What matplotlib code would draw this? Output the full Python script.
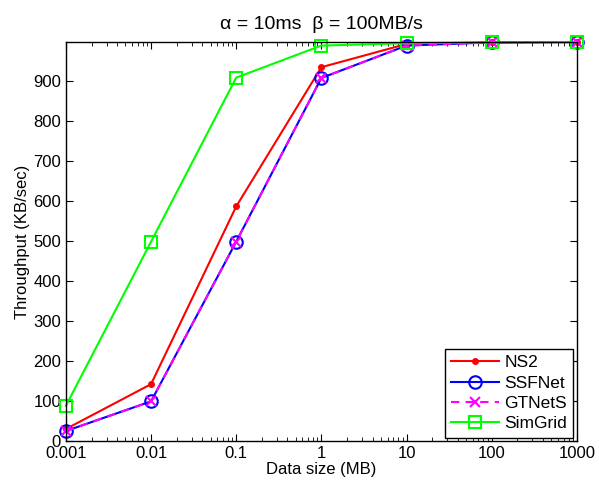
import numpy as np
import matplotlib.pyplot as plt
from matplotlib.ticker import LogLocator, NullFormatter

plt.rcParams['font.family'] = ['Liberation Sans', 'DejaVu Sans']

sizes = [0.001, 0.01, 0.1, 1, 10, 100, 1000]
size_labels = ['0.001', '0.01', '0.1', '1', '10', '100', '1000']
ns2 = [30, 142, 586, 934, 992, 996, 997]
ssfnet = [25, 99, 498, 907, 988, 996, 997]
gtnets = [25, 99, 498, 907, 988, 996, 997]
simgrid = [88, 498, 908, 988, 994, 996, 997]

fig = plt.figure(figsize=(5.99, 4.86), dpi=100)
ax = fig.add_axes([0.110, 0.0926, 0.853, 0.821])

ax.plot(sizes, ns2, color='#ff0000', marker='o', markersize=4, lw=1.5,
        label='NS2', clip_on=False)
ax.plot(sizes, ssfnet, color='#0000ff', marker='o', markersize=9, mfc='none',
        mew=1.5, lw=1.5, label='SSFNet', clip_on=False)
ax.plot(sizes, gtnets, color='#ff00ff', marker='x', markersize=7, mew=1.5,
        lw=1.5, ls=(0, (4, 3)), label='GTNetS', clip_on=False)
ax.plot(sizes, simgrid, color='#00ff00', marker='s', markersize=8, mfc='none',
        mew=1.5, lw=1.5, label='SimGrid', clip_on=False)

ax.set_xscale('log')
ax.set_xlim(0.001, 1000)
ax.set_ylim(0, 997)
ax.set_xticks(sizes)
ax.set_xticklabels(size_labels)
ax.xaxis.set_minor_locator(LogLocator(base=10, subs=np.arange(2, 10)))
ax.xaxis.set_minor_formatter(NullFormatter())
ax.set_yticks(np.arange(0, 1000, 100))

ax.tick_params(which='both', direction='in', top=True, right=True, labelsize=12)
ax.tick_params(which='major', length=5)
ax.tick_params(which='minor', length=3)
for s in ax.spines.values():
    s.set_linewidth(1.0)

ax.set_xlabel('Data size (MB)', fontsize=12, labelpad=1)
ax.set_ylabel('Throughput (KB/sec)', fontsize=12, labelpad=2)
ax.set_title('\u03b1 = 10ms  \u03b2 = 100MB/s', fontsize=14, pad=9)

leg = ax.legend(loc='lower right', fontsize=12.5, fancybox=False, framealpha=1,
                edgecolor='black', handlelength=2.8, borderpad=0.35,
                labelspacing=0.3, handletextpad=0.3, borderaxespad=0.2)
leg.get_frame().set_linewidth(1.0)

fig.savefig('out.png', dpi=100)
